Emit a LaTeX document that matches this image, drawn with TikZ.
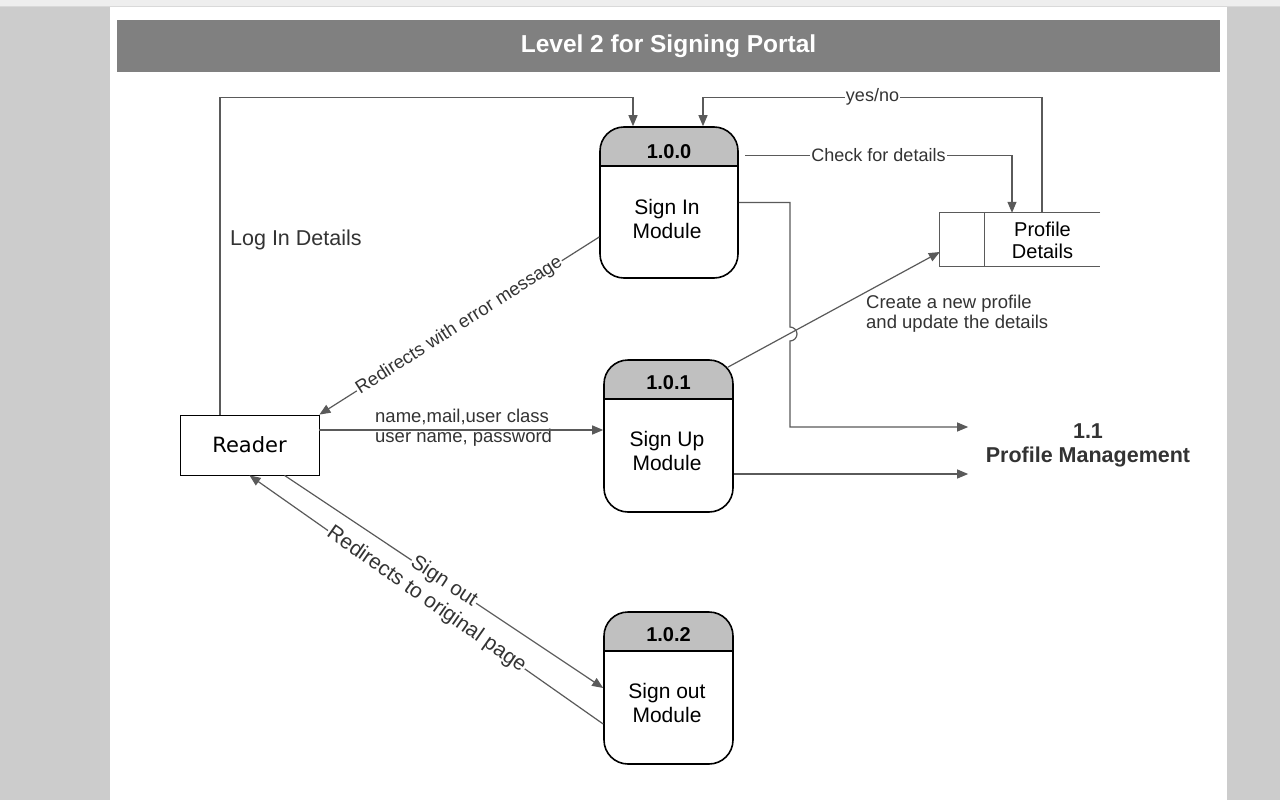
\documentclass[tikz,border=0pt]{standalone}
\usepackage{fontspec}
\setmainfont{Liberation Sans}
\newfontfamily\readerfont{DejaVu Sans}
\usetikzlibrary{arrows.meta}

\definecolor{pagegray}{HTML}{CCCCCC}
\definecolor{stripgray}{HTML}{EEEEEE}
\definecolor{bargray}{HTML}{808080}
\definecolor{headgray}{HTML}{C0C0C0}
\definecolor{linegray}{HTML}{5A5A5A}
\definecolor{labelgray}{HTML}{333333}

\tikzset{
  titlebar/.style={fill=bargray, text=white, minimum width=1103pt, minimum height=52pt,
    inner sep=0pt, font=\bfseries\fontsize{24.5}{28}\selectfont},
  process/.style={draw=black, line width=1.6pt, rounded corners=24pt,
    minimum width=129pt, minimum height=152pt, inner sep=0pt,
    path picture={
      \fill[headgray, sharp corners] (path picture bounding box.north west) rectangle ([yshift=-39pt]path picture bounding box.north east);
      \draw[line width=1.6pt, sharp corners] ([yshift=-39pt]path picture bounding box.north west) -- ([yshift=-39pt]path picture bounding box.north east);
    }},
  procid/.style={font=\bfseries\fontsize{20}{24}\selectfont, inner sep=0pt},
  proctext/.style={align=center, font=\fontsize{21}{24}\selectfont, inner sep=0pt},
  entity/.style={draw=black, line width=0.8pt, minimum width=139pt, minimum height=60pt,
    inner sep=0pt, font=\readerfont\fontsize{21}{24}\selectfont},
  storeline/.style={draw=linegray, line width=1pt},
  storetext/.style={align=center, font=\fontsize{20}{22}\selectfont, inner sep=0pt},
  pmtext/.style={align=center, text=labelgray, font=\bfseries\fontsize{21.5}{24}\selectfont, inner sep=0pt},
  flow/.style={draw=linegray, line width=1.2pt, -{Triangle[length=11pt,width=9pt]}},
  lbl/.style={fill=white, text=labelgray, inner sep=1pt, font=\fontsize{18}{20}\selectfont},
  note/.style={text=labelgray, inner sep=0pt, align=left, font=\fontsize{18.5}{20}\selectfont}
}

\begin{document}
\begin{tikzpicture}[x=1pt,y=-1pt]
  % Page
  \useasboundingbox (0,0) rectangle (1280,800);
  \fill[pagegray] (0,0) rectangle (1280,800);
  \fill[stripgray] (0,0) rectangle (1280,6);
  \draw[black!15] (0,6.5) -- (1280,6.5);
  \fill[white] (110,7) rectangle (1227,800);

  % Title
  \node[titlebar] (title) at (668.5,46) {Level 2 for Signing Portal};

  % Processes
  \node[process, minimum width=138pt, minimum height=151pt] (signin) at (669,202.5) {};
  \node[procid] (signin-id) at (669,151.5) {1.0.0};
  \node[proctext] (signin-txt) at (667,219) {Sign In\\Module};

  \node[process] (signup) at (668.5,436) {};
  \node[procid] (signup-id) at (668.5,383) {1.0.1};
  \node[proctext] (signup-txt) at (667,451) {Sign Up\\Module};

  \node[process] (signout) at (668.5,688) {};
  \node[procid] (signout-id) at (668.5,635) {1.0.2};
  \node[proctext] (signout-txt) at (667,703) {Sign out\\Module};

  % Reader
  \node[entity] (reader) at (249.5,445) {Reader};

  % Data store
  \node[minimum width=160pt, minimum height=53pt, inner sep=0pt] (store) at (1020,239.5) {};
  \draw[storeline] (store.north east) -- (store.north west) -- (store.south west) -- (store.south east);
  \draw[storeline] ([xshift=45pt]store.north west) -- ([xshift=45pt]store.south west);
  \node[storetext] (store-txt) at (1042.5,240) {Profile\\Details};

  % Profile management
  \node[pmtext] (pm) at (1088,445) {1.1\\Profile Management};

  % Labels off the lines
  \node[note, anchor=west, font=\fontsize{21.5}{24}\selectfont] (login-lbl) at (230,240) {Log In Details};
  \node[note, anchor=west] (userdata-lbl) at (375,428) {name,mail,user class\\user name, password};
  \node[note, anchor=west] (create-lbl) at (866,314) {Create a new profile\\and update the details};

  % Connectors
  \coordinate (cross) at (790,334);
  \draw[flow] ([xshift=-29.5pt]reader.north) |- ([xshift=-36pt,yshift=29pt]signin.north)
    -- ([xshift=-36pt]signin.north);
  \draw[flow] ([xshift=22pt]store.north) |- ([xshift=34pt,yshift=29pt]signin.north)
    node[lbl, pos=0.75] {yes/no} -- ([xshift=34pt]signin.north);
  \draw[flow] ([xshift=76pt,yshift=-29pt]signin.north) -| ([xshift=-8pt]store.north)
    node[lbl, pos=0.25] {Check for details};
  \draw[flow] (signin.east) -| ([yshift=7pt]cross) arc[start angle=90, end angle=-90, radius=7pt]
    |- ([xshift=-17.5pt,yshift=18pt]pm.west);
  \draw[flow] ([yshift=-34.5pt]signin.west) -- node[lbl, sloped, font=\fontsize{18.5}{20}\selectfont] {Redirects with error message} (reader.north east);
  \draw[flow] ([yshift=15pt]reader.east) -- ([yshift=6pt]signup.west);
  \draw[flow] ([xshift=-6pt,yshift=-8pt]signup.north east) -- ([yshift=-12.5pt]store.west);
  \draw[flow] ([yshift=-38pt]signup.east) -- ([xshift=-17.5pt,yshift=-29pt]pm.west);
  \draw[flow] ([xshift=35pt]reader.south) -- node[lbl, sloped, font=\fontsize{20.5}{22}\selectfont] {Sign out} (signout.west);
  \draw[flow] ([yshift=-36pt]signout.west) -- node[lbl, sloped, font=\fontsize{21}{22}\selectfont] {Redirects to original page} (reader.south);
\end{tikzpicture}
\end{document}
